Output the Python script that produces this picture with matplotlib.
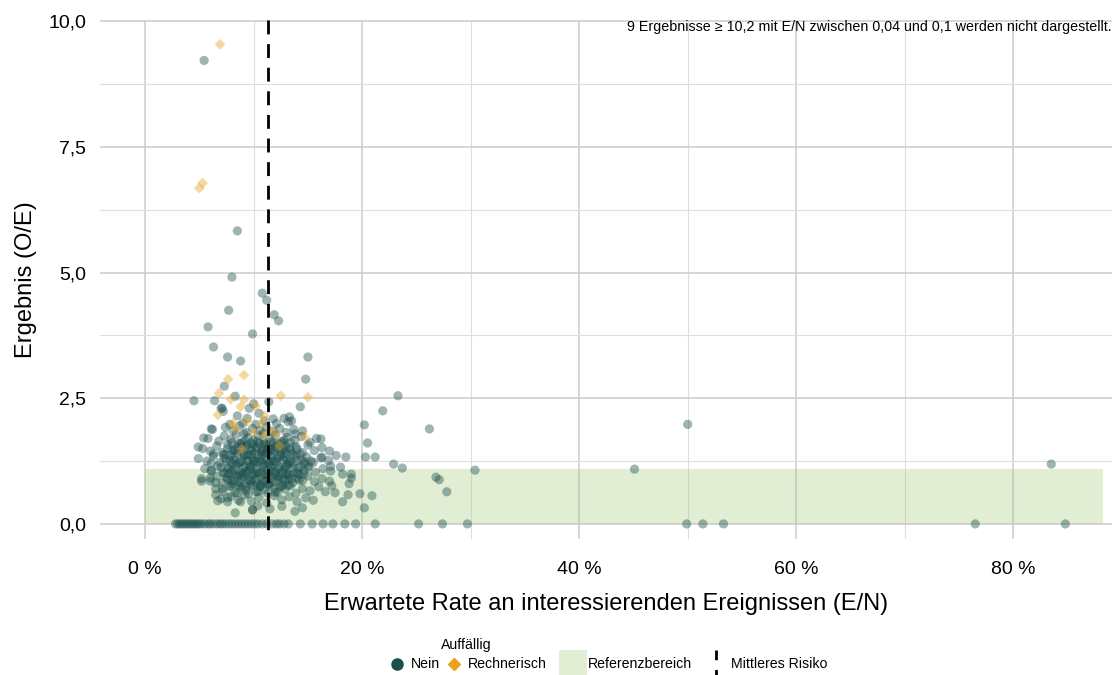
import matplotlib
matplotlib.use("Agg")
import matplotlib.pyplot as plt
from matplotlib.patches import Rectangle
from matplotlib.ticker import FuncFormatter, MultipleLocator

plt.rcParams['font.family'] = ['Liberation Sans', 'DejaVu Sans']

# ---------------- data (E/N in %, O/E) ----------------
# Nein: points above zero
nein_x = [5.44, 8.5, 8.0, 10.8, 11.2, 11.9, 12.3, 7.7, 5.8, 9.9, 6.3, 7.6, 8.8, 15.0, 14.8, 14.3,
          7.3, 4.5, 6.4, 8.3, 9.6, 10.0, 7.1, 7.2, 6.1, 5.4, 11.4, 13.3, 13.2, 11.8, 20.2, 13.8, 16.2,
          23.3, 21.9, 26.2, 20.5, 18.5, 20.3, 21.2, 22.9, 23.7, 30.4, 26.8, 27.1, 27.8, 18.2, 19.0,
          19.0, 18.8, 17.5, 18.7, 19.8, 20.9, 18.2, 20.2, 17.2, 45.1, 50.0, 83.5, 4.9, 5.2, 6.0, 6.5,
          7.1, 6.5, 6.3, 6.1, 6.7, 7.6, 7.6, 8.3, 8.8, 9.9, 10.4, 6.1, 16.3, 17.1,
          # cluster rows
          7.0, 8.5, 9.4, 10.5, 11.0, 12.1, 12.8, 13.5, 9.0, 10.2,
          6.2, 7.4, 8.1, 8.7, 9.3, 9.9, 10.6, 11.2, 11.8, 12.4, 13.0, 13.7, 14.5, 7.8, 10.9,
          5.8, 6.8, 7.3, 7.9, 8.4, 8.9, 9.5, 10.0, 10.4, 10.9, 11.5, 12.0, 12.6, 13.1, 13.8, 14.4,
          15.2, 15.8, 9.1, 11.8,
          5.3, 6.0, 6.6, 7.1, 7.6, 8.0, 8.5, 9.0, 9.4, 9.8, 10.3, 10.7, 11.1, 11.6, 12.0, 12.5, 12.9,
          13.4, 13.9, 14.5, 15.0, 15.6, 16.3, 17.0, 8.8, 10.0, 11.3,
          4.9, 5.7, 6.3, 6.9, 7.4, 7.8, 8.2, 8.6, 9.1, 9.5, 9.9, 10.3, 10.8, 11.2, 11.6, 12.1, 12.5,
          13.0, 13.4, 13.9, 14.4, 14.9, 15.5, 16.2, 16.9, 17.6, 8.0, 10.6, 12.8,
          5.5, 6.1, 6.7, 7.2, 7.6, 8.0, 8.4, 8.8, 9.2, 9.6, 10.0, 10.4, 10.8, 11.2, 11.6, 12.0, 12.4,
          12.8, 13.2, 13.7, 14.1, 14.6, 15.1, 15.7, 16.4, 17.1, 18.0, 9.0, 11.4, 13.0,
          5.2, 6.0, 6.6, 7.1, 7.5, 7.9, 8.3, 8.7, 9.1, 9.5, 9.9, 10.3, 10.7, 11.1, 11.5, 11.9, 12.3,
          12.7, 13.1, 13.6, 14.0, 14.5, 15.0, 15.6, 16.3, 17.0,
          6.5, 7.2, 7.8, 8.3, 8.8, 9.3, 9.7, 10.2, 10.6, 11.0, 11.5, 12.0, 12.4, 12.9, 13.4, 13.9,
          14.5, 15.2, 16.0, 16.6,
          7.0, 7.9, 8.6, 9.2, 9.8, 10.5, 11.2, 11.9, 12.6, 13.3, 14.0, 14.8, 15.5,
          9.9, 11.5, 12.6, 13.8, 14.5,
          # core
          8.2, 8.9, 9.3, 9.7, 10.1, 10.5, 10.9, 11.3, 11.7, 12.2, 12.6, 13.0, 13.5, 8.5, 9.0, 9.4,
          9.8, 10.2, 10.6, 11.0, 11.4, 11.8, 12.3, 12.7, 13.2, 13.6, 14.2, 14.7, 7.7, 7.3, 8.1, 10.0,
          10.8, 11.9, 9.5, 12.9,
          # dense core
          8.0, 8.6, 9.2, 9.8, 10.4, 11.0, 11.6, 12.2, 12.8, 13.4,
          7.6, 8.3, 8.9, 9.6, 10.2, 10.8, 11.4, 12.1, 12.7, 13.3, 14.0,
          7.2, 7.9, 8.5, 9.2, 9.8, 10.5, 11.1, 11.7, 12.4, 13.0, 13.7, 14.3,
          7.5, 8.2, 8.8, 9.4, 10.1, 10.7, 11.4, 12.0, 12.7, 13.3, 14.0, 14.7, 15.3,
          7.0, 7.7, 8.3, 9.0, 9.7, 10.3, 11.0, 11.6, 12.3, 12.9, 13.6, 14.3, 15.0,
          7.3, 8.0, 8.7, 9.3, 10.0, 10.7, 11.3, 12.0, 12.6, 13.3, 14.0, 14.6,
          7.6, 8.2, 8.9, 9.6, 10.2, 10.9, 11.6, 12.2, 12.9, 13.5, 14.2,
          7.9, 8.6, 9.3, 9.9, 10.6, 11.3, 11.9, 12.6, 13.2,
          8.5, 9.5, 10.4, 11.3, 12.2]
nein_y = [9.22, 5.83, 4.91, 4.59, 4.45, 4.16, 4.04, 4.25, 3.92, 3.78, 3.52, 3.32, 3.24, 3.32, 2.88, 2.33,
          2.74, 2.45, 2.45, 2.54, 2.30, 2.39, 2.30, 2.24, 1.89, 1.71, 2.43, 2.13, 2.03, 2.09, 1.97, 1.79, 1.69,
          2.55, 2.25, 1.89, 1.61, 1.33, 1.33, 1.33, 1.19, 1.11, 1.07, 0.93, 0.88, 0.64, 0.99, 0.99,
          0.91, 0.80, 0.62, 0.58, 0.60, 0.56, 0.44, 0.32, 0.76, 1.09, 1.98, 1.19, 1.53, 0.85, 0.91, 0.82,
          0.70, 0.58, 1.39, 1.21, 0.46, 0.52, 0.44, 0.22, 0.44, 0.28, 0.36, 1.07, 1.33, 1.15,
          2.30, 2.15, 2.10, 2.20, 2.05, 2.00, 2.10, 2.05, 2.00, 1.98,
          1.88, 1.92, 1.85, 1.95, 1.82, 1.90, 1.86, 1.93, 1.84, 1.90, 1.82, 1.88, 1.85, 1.98, 1.80,
          1.70, 1.65, 1.75, 1.68, 1.78, 1.62, 1.72, 1.66, 1.76, 1.63, 1.70, 1.77, 1.64, 1.72, 1.66, 1.74,
          1.62, 1.70, 1.79, 1.61,
          1.50, 1.45, 1.55, 1.42, 1.58, 1.47, 1.53, 1.41, 1.57, 1.46, 1.52, 1.43, 1.59, 1.48, 1.54, 1.44, 1.56,
          1.47, 1.53, 1.42, 1.57, 1.46, 1.52, 1.45, 1.60, 1.58, 1.41,
          1.30, 1.25, 1.35, 1.22, 1.38, 1.27, 1.33, 1.21, 1.36, 1.26, 1.32, 1.23, 1.37, 1.28, 1.34, 1.22, 1.39,
          1.29, 1.24, 1.35, 1.27, 1.33, 1.22, 1.31, 1.26, 1.36, 1.20, 1.25, 1.33,
          1.10, 1.05, 1.15, 1.02, 1.12, 1.07, 1.18, 1.03, 1.14, 1.08, 1.17, 1.01, 1.12, 1.06, 1.16, 1.04, 1.13,
          1.08, 1.18, 1.02, 1.11, 1.06, 1.15, 1.03, 1.10, 1.05, 1.13, 1.00, 1.19, 1.00,
          0.90, 0.85, 0.95, 0.82, 0.92, 0.87, 0.98, 0.83, 0.94, 0.88, 0.97, 0.81, 0.92, 0.86, 0.96, 0.84, 0.93,
          0.89, 0.98, 0.82, 0.91, 0.86, 0.95, 0.84, 0.90, 0.85,
          0.70, 0.65, 0.75, 0.62, 0.72, 0.67, 0.78, 0.64, 0.74, 0.68, 0.77, 0.63, 0.73, 0.69, 0.76, 0.61,
          0.70, 0.66, 0.74, 0.64,
          0.50, 0.55, 0.47, 0.57, 0.45, 0.53, 0.42, 0.56, 0.48, 0.54, 0.44, 0.52, 0.47,
          0.28, 0.30, 0.35, 0.25, 0.32,
          1.45, 1.25, 1.55, 1.15, 1.40, 1.60, 1.20, 1.50, 1.05, 1.30, 1.60, 1.15, 1.40, 0.95, 0.75, 1.05,
          0.85, 1.00, 0.78, 0.98, 0.80, 1.25, 0.95, 0.78, 0.90, 1.20, 0.98, 1.20, 1.00, 1.30, 0.80, 1.25,
          1.45, 1.45, 1.38, 1.48,
          1.62, 1.60, 1.65, 1.61, 1.64, 1.59, 1.63, 1.60, 1.66, 1.62,
          1.50, 1.48, 1.52, 1.49, 1.51, 1.47, 1.53, 1.50, 1.48, 1.52, 1.49,
          1.38, 1.36, 1.40, 1.37, 1.39, 1.35, 1.41, 1.38, 1.36, 1.40, 1.37, 1.39,
          1.25, 1.27, 1.23, 1.26, 1.24, 1.28, 1.22, 1.25, 1.27, 1.23, 1.26, 1.24, 1.25,
          1.12, 1.10, 1.14, 1.11, 1.13, 1.09, 1.15, 1.12, 1.10, 1.14, 1.11, 1.13, 1.12,
          1.00, 1.02, 0.98, 1.01, 0.99, 1.03, 0.97, 1.00, 1.02, 0.98, 1.01, 0.99,
          0.88, 0.86, 0.90, 0.87, 0.89, 0.85, 0.91, 0.88, 0.86, 0.90, 0.87,
          0.75, 0.77, 0.73, 0.76, 0.74, 0.78, 0.72, 0.75, 0.77,
          0.62, 0.60, 0.64, 0.61, 0.63]

# Nein: points at O/E = 0
nein_zero_x = [2.8, 3.0, 3.2, 3.4, 3.6, 3.8, 4.0, 4.2, 4.4, 4.6, 4.8, 5.0, 5.2, 5.5, 5.8, 6.0, 6.3,
               6.6, 6.9, 7.1, 7.4, 7.7, 8.0, 8.3, 8.6, 8.9, 9.2, 9.5, 9.8, 10.1, 10.4, 10.8, 11.2,
               11.7, 12.1, 12.4, 12.8, 13.2, 14.3, 15.4, 16.4, 17.3, 18.4, 19.4, 21.2, 25.2, 27.4,
               29.7, 49.9, 51.4, 53.3, 76.5, 84.8]

# Rechnerisch
rech_x = [6.9, 5.0, 5.3, 7.65, 9.1, 6.8, 7.9, 9.1, 8.8, 10.2, 6.7, 8.1, 9.4, 10.7, 11.0, 8.3,
          10.0, 11.0, 11.5, 12.1, 12.4, 8.9, 12.5, 15.0, 14.7]
rech_y = [9.54, 6.68, 6.78, 2.88, 2.96, 2.60, 2.48, 2.47, 2.33, 2.35, 2.17, 2.00, 2.05, 2.00, 2.15, 1.89,
          1.83, 1.75, 1.87, 1.79, 1.55, 1.49, 2.55, 2.52, 1.73]

ref_upper = 1.1
ref_xmax = 88.3
mean_risk = 11.34

x_ticks = [0, 20, 40, 60, 80]
y_ticks = [0.0, 2.5, 5.0, 7.5, 10.0]

note = "9 Ergebnisse \u2265 10,2 mit E/N zwischen 0,04 und 0,1 werden nicht dargestellt."

# ---------------- figure ----------------
teal = "#1a4f4d"
orange = "#e8a21c"
band = "#a9cc7f"

fig = plt.figure(figsize=(11.12, 6.75), dpi=100)
ax = fig.add_axes([0.09, 0.2015, 0.91, 0.7685])
ax.set_xlim(-4.15, 89.1)
ax.set_ylim(-0.3, 10.02)

ax.set_xticks(x_ticks)
ax.set_yticks(y_ticks)
ax.xaxis.set_minor_locator(MultipleLocator(10))
ax.yaxis.set_minor_locator(MultipleLocator(1.25))
ax.xaxis.set_major_formatter(FuncFormatter(lambda v, p: f"{v:.0f} %"))
ax.yaxis.set_major_formatter(FuncFormatter(lambda v, p: f"{v:.1f}".replace(".", ",")))
ax.grid(True, which="major", color="#cccccc", linewidth=1.1, zorder=0)
ax.grid(True, which="minor", color="#dedede", linewidth=0.8, zorder=0)
ax.set_axisbelow(True)
for s in ax.spines.values():
    s.set_visible(False)
ax.tick_params(which="both", length=0)
ax.tick_params(axis="x", labelsize=14, pad=16, colors="black")
ax.tick_params(axis="y", labelsize=14, pad=10, colors="black")

ax.add_patch(Rectangle((0, 0), ref_xmax, ref_upper, facecolor=band, alpha=0.33,
                       edgecolor="none", zorder=1))

ax.scatter(nein_x, nein_y, s=44, color=teal, alpha=0.42, edgecolors="none", zorder=3)
ax.scatter(nein_zero_x, [0] * len(nein_zero_x), s=44, color=teal, alpha=0.42,
           edgecolors="none", zorder=3)
ax.scatter(rech_x, rech_y, s=30, marker="D", color=orange, alpha=0.42,
           edgecolors="none", zorder=4)

ax.plot([mean_risk, mean_risk], [10.02, -0.3], color="black", linewidth=2.0,
        linestyle=(0, (5, 3.5)), zorder=5)

ax.set_xlabel("Erwartete Rate an interessierenden Ereignissen (E/N)", fontsize=17, labelpad=11)
ax.set_ylabel("Ergebnis (O/E)", fontsize=17, labelpad=8)

fig.text(1112 / 1112, 1 - 27 / 675, note, ha="right", va="center", fontsize=10.3)

# ---------------- legend (drawn in pixel coordinates) ----------------
lg = fig.add_axes([0, 0, 1, 1], zorder=-1)
lg.set_xlim(0, 1112)
lg.set_ylim(675, 0)
lg.axis("off")
lg.patch.set_alpha(0)
ly = 664
lg.text(441, 645, "Auffällig", fontsize=10.2, va="center", ha="left")
lg.plot([397], [ly], marker="o", markersize=8, color=teal, linestyle="none")
lg.text(411, ly, "Nein", fontsize=10.2, va="center", ha="left")
lg.plot([454], [ly], marker="D", markersize=6.5, color=orange, linestyle="none")
lg.text(468, ly, "Rechnerisch", fontsize=10.2, va="center", ha="left")
lg.add_patch(Rectangle((559, 650), 28, 28, facecolor=band, alpha=0.33, edgecolor="none"))
lg.text(588, ly, "Referenzbereich", fontsize=10.2, va="center", ha="left")
lg.plot([716, 716], [650, 676], color="black", linewidth=2.0, linestyle=(0, (3.5, 3.5)))
lg.text(731, ly, "Mittleres Risiko", fontsize=10.2, va="center", ha="left")

fig.savefig("out.png", dpi=100)
